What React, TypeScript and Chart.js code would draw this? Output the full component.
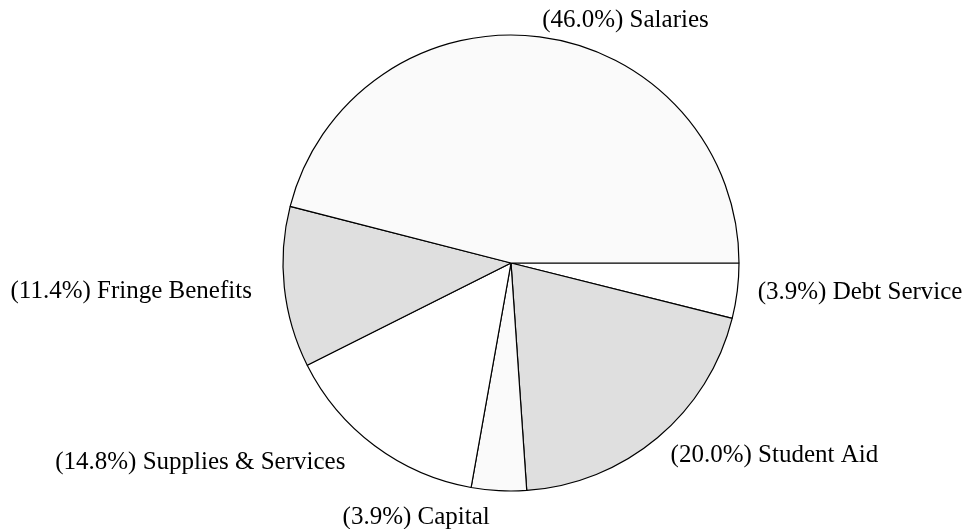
import React, { useEffect, useRef } from "react";
import { Chart, registerables } from "chart.js";

Chart.register(...registerables);

// Categories listed clockwise starting from 3 o'clock
const categories = ["Debt Service", "Student Aid", "Capital", "Supplies & Services", "Fringe Benefits", "Salaries"];
const percents = [3.9, 20.0, 3.9, 14.8, 11.4, 46.0];
const sliceColors = ["#ffffff", "#dfdfdf", "#fafafa", "#ffffff", "#dfdfdf", "#fafafa"];

// label layout: alignment and small nudges from the arc's mid-angle anchor
const labelAlign = ["left", "left", "right", "right", "right", "left"];
const labelNudgeX = [0, 0, -8, -17, -12, 0];
const labelNudgeY = [-1, 2, 6, 0, 2, 4];

const labelPlugin = {
  id: "outsideLabels",
  afterDatasetsDraw(chart: any) {
    const ctx = chart.ctx;
    const meta = chart.getDatasetMeta(0);
    ctx.save();
    ctx.font = '25px "Liberation Serif", "Times New Roman", serif';
    ctx.fillStyle = "#000000";
    ctx.textBaseline = "middle";
    meta.data.forEach((arc: any, i: number) => {
      const p = arc.getProps(["x", "y", "startAngle", "endAngle", "outerRadius"], true);
      const mid = (p.startAngle + p.endAngle) / 2;
      const d = p.outerRadius * 1.09;
      const ax = p.x + Math.cos(mid) * d + labelNudgeX[i];
      const ay = p.y + Math.sin(mid) * d + labelNudgeY[i];
      ctx.textAlign = labelAlign[i];
      ctx.fillText(`(${percents[i].toFixed(1)}%) ${categories[i]}`, ax, ay);
    });
    ctx.restore();
  },
};

export default function App() {
  const ref = useRef<HTMLCanvasElement | null>(null);
  useEffect(() => {
    if (!ref.current) return;
    const chart = new Chart(ref.current, {
      type: "pie",
      data: {
        labels: categories,
        datasets: [
          {
            data: percents,
            backgroundColor: sliceColors,
            borderColor: "#000000",
            borderWidth: 1.2,
          },
        ],
      },
      options: {
        responsive: false,
        animation: false,
        rotation: 90,
        radius: 228,
        layout: { padding: { left: 283, right: 227, top: 35, bottom: 38 } },
        plugins: {
          legend: { display: false },
          tooltip: { enabled: false },
        },
      },
      plugins: [labelPlugin],
    } as any);
    return () => chart.destroy();
  }, []);
  return (
    <div style={{ position: "fixed", left: 0, top: 0, width: 966, height: 529, background: "#ffffff" }}>
      <canvas ref={ref} width={966} height={529} style={{ display: "block" }} />
    </div>
  );
}
